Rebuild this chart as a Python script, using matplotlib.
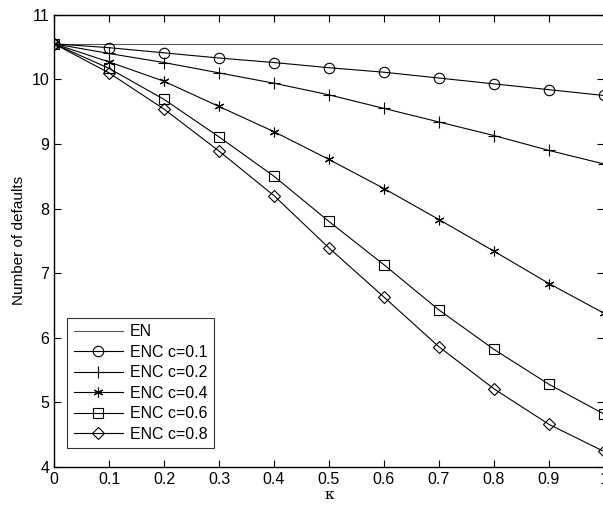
import matplotlib
matplotlib.use("Agg")
import matplotlib.pyplot as plt

plt.rcParams['font.family'] = ['Liberation Sans', 'DejaVu Sans']

kappa = [0, 0.1, 0.2, 0.3, 0.4, 0.5, 0.6, 0.7, 0.8, 0.9, 1.0]
en = [10.55] * len(kappa)
enc_01 = [10.55, 10.49, 10.41, 10.33, 10.26, 10.18, 10.11, 10.02, 9.93, 9.84, 9.75]
enc_02 = [10.55, 10.40, 10.26, 10.10, 9.94, 9.76, 9.55, 9.34, 9.13, 8.90, 8.69]
enc_04 = [10.55, 10.27, 9.97, 9.58, 9.19, 8.76, 8.31, 7.83, 7.34, 6.84, 6.38]
enc_06 = [10.55, 10.17, 9.69, 9.11, 8.50, 7.80, 7.13, 6.43, 5.82, 5.28, 4.82]
enc_08 = [10.55, 10.10, 9.54, 8.89, 8.20, 7.39, 6.63, 5.86, 5.21, 4.66, 4.24]

fig = plt.figure(figsize=(6.03, 5.08), dpi=100)
ax = fig.add_axes([0.0896, 0.0807, 0.912, 0.8903])

lw = 0.8
ax.plot(kappa, en, color='#555555', lw=lw, label='EN')
ax.plot(kappa, enc_01, color='k', lw=lw, marker='o', ms=7.5, mfc='none', mew=0.8, label='ENC c=0.1')
ax.plot(kappa, enc_02, color='k', lw=lw, marker='+', ms=8, mew=0.8, label='ENC c=0.2')
ax.plot(kappa, enc_04, color='k', lw=lw, marker=(6, 2, 0), ms=7, mew=0.8, label='ENC c=0.4')
ax.plot(kappa, enc_06, color='k', lw=lw, marker='s', ms=6.5, mfc='none', mew=0.8, label='ENC c=0.6')
ax.plot(kappa, enc_08, color='k', lw=lw, marker='D', ms=6, mfc='none', mew=0.8, label='ENC c=0.8')

ax.set_xlim(0, 1)
ax.set_ylim(4, 11)
ax.set_xticks([0, 0.1, 0.2, 0.3, 0.4, 0.5, 0.6, 0.7, 0.8, 0.9, 1])
ax.set_xticklabels(['0', '0.1', '0.2', '0.3', '0.4', '0.5', '0.6', '0.7', '0.8', '0.9', '1'])
ax.set_yticks(range(4, 12))
ax.tick_params(direction='in', top=True, right=True, labelsize=11.5, length=5, width=0.8)
for s in ax.spines.values():
    s.set_linewidth(1.0)

ax.set_xlabel('κ', fontsize=11, family=['DejaVu Serif'], labelpad=1)
ax.set_ylabel('Number of defaults', fontsize=11, labelpad=4)

leg = ax.legend(loc='lower left', bbox_to_anchor=(0.024, 0.042), fontsize=11.5,
                frameon=True, fancybox=False, edgecolor='k', handlelength=3.1,
                labelspacing=0.34, borderpad=0.4, handletextpad=0.4, borderaxespad=0)
leg.get_frame().set_linewidth(0.8)

fig.savefig('out.png', dpi=100)
